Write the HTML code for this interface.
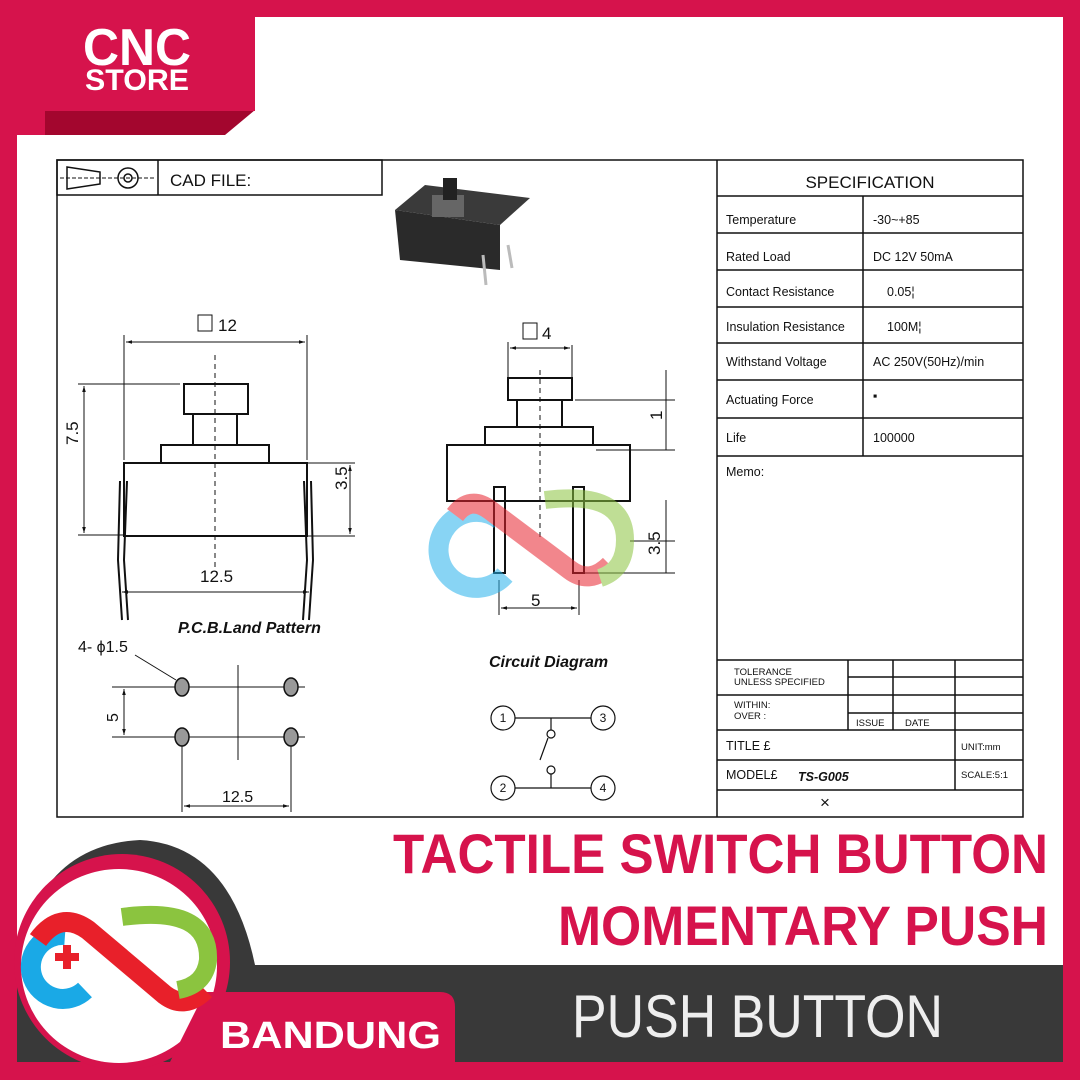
<!DOCTYPE html>
<html><head><meta charset="utf-8"><style>
html,body{margin:0;padding:0;background:#fff}
svg{display:block}
text{font-family:"Liberation Sans",Arial,sans-serif}
</style></head><body>
<svg width="1080" height="1080" viewBox="0 0 1080 1080" xmlns="http://www.w3.org/2000/svg">
<defs>
<marker id="a" viewBox="0 0 10 10" refX="10" refY="5" markerWidth="8" markerHeight="6" orient="auto-start-reverse"><path d="M0 2 L10 5 L0 8 Z" fill="#111"/></marker>
</defs>
<rect width="1080" height="1080" fill="#d6134c"/>
<rect x="17" y="17" width="1046" height="948" fill="#fff"/>
<polygon points="45,110 255,110 225,135 15,135" fill="#a3062e"/>
<rect x="45" y="15" width="210" height="96" fill="#d6134c"/>
<rect x="15" y="15" width="30" height="120" fill="#d6134c"/>
<text x="137" y="65" font-size="52" font-weight="bold" fill="#fff" text-anchor="middle" textLength="108" lengthAdjust="spacingAndGlyphs">CNC</text>
<text x="137" y="90" font-size="30" font-weight="bold" fill="#fff" text-anchor="middle" textLength="104" lengthAdjust="spacingAndGlyphs">STORE</text>

<g stroke="#111" fill="none" stroke-width="1.5">
<rect x="57" y="160" width="966" height="657"/>
<rect x="57" y="160" width="325" height="35"/>
<line x1="158" y1="160" x2="158" y2="195"/>
<polygon points="67,167 100,172 100,184 67,189"/>
<circle cx="128" cy="178" r="10"/><circle cx="128" cy="178" r="4"/>
<line x1="60" y1="178" x2="155" y2="178" stroke-dasharray="4,2" stroke-width="1"/>
<line x1="717" y1="160" x2="717" y2="817"/>
<line x1="717" y1="196" x2="1023" y2="196"/>
<line x1="717" y1="233" x2="1023" y2="233"/>
<line x1="717" y1="270" x2="1023" y2="270"/>
<line x1="717" y1="307" x2="1023" y2="307"/>
<line x1="717" y1="343" x2="1023" y2="343"/>
<line x1="717" y1="380" x2="1023" y2="380"/>
<line x1="717" y1="418" x2="1023" y2="418"/>
<line x1="717" y1="456" x2="1023" y2="456"/>
<line x1="863" y1="196" x2="863" y2="456"/>
<line x1="717" y1="660" x2="1023" y2="660"/>
<line x1="717" y1="695" x2="1023" y2="695"/>
<line x1="717" y1="730" x2="1023" y2="730"/>
<line x1="717" y1="760" x2="1023" y2="760"/>
<line x1="717" y1="790" x2="1023" y2="790"/>
<line x1="848" y1="660" x2="848" y2="730"/>
<line x1="893" y1="660" x2="893" y2="730"/>
<line x1="955" y1="660" x2="955" y2="790"/>
<line x1="848" y1="677" x2="1023" y2="677"/>
<line x1="848" y1="713" x2="1023" y2="713"/>
</g>
<g font-size="12.5" fill="#111">
<text x="170" y="186" font-size="17">CAD FILE:</text>
<text x="870" y="188" font-size="17" text-anchor="middle">SPECIFICATION</text>
<text x="726" y="224">Temperature</text><text x="873" y="224">-30~+85</text>
<text x="726" y="261">Rated Load</text><text x="873" y="261">DC 12V 50mA</text>
<text x="726" y="296">Contact Resistance</text><text x="887" y="296">0.05¦</text>
<text x="726" y="331">Insulation Resistance</text><text x="887" y="331">100M¦</text>
<text x="726" y="366">Withstand Voltage</text><text x="873" y="366">AC 250V(50Hz)/min</text>
<text x="726" y="404">Actuating Force</text><text x="873" y="400">▪</text>
<text x="726" y="442">Life</text><text x="873" y="442">100000</text>
<text x="726" y="476">Memo:</text>
<g font-size="9.5"><text x="734" y="675">TOLERANCE</text><text x="734" y="685">UNLESS SPECIFIED</text>
<text x="734" y="708">WITHIN:</text><text x="734" y="719">OVER  :</text>
<text x="856" y="726">ISSUE</text><text x="905" y="726">DATE</text>
<text x="961" y="750">UNIT:mm</text><text x="961" y="778">SCALE:5:1</text></g>
<text x="726" y="750">TITLE  £</text><text x="726" y="779">MODEL£</text>
<text x="798" y="781" font-style="italic" font-weight="bold">TS-G005</text>
<text x="820" y="808" font-size="17">×</text>
</g>

<polygon points="395,210 425,185 530,198 500,225" fill="#3a3a3a"/>
<polygon points="395,210 500,225 500,270 400,260" fill="#2a2a2a"/>
<rect x="432" y="195" width="32" height="22" fill="#666"/><rect x="443" y="178" width="14" height="22" fill="#222"/>
<path d="M483 255 L486 285 M508 245 L512 268" stroke="#bbb" stroke-width="3"/>

<g stroke="#111" fill="none" stroke-width="2">
<rect x="184" y="384" width="64" height="30"/><rect x="193" y="414" width="44" height="31"/>
<rect x="161" y="445" width="108" height="18"/><path d="M124 463 H307 V536 H124 Z"/>
<path d="M120 481 L118 560 L122 620 M127 481 L124 560 L128 620"/>
<path d="M311 481 L313 560 L309 620 M304 481 L307 560 L303 620"/>
</g>
<g stroke="#111" fill="none" stroke-width="1">
<line x1="215" y1="355" x2="215" y2="570" stroke-dasharray="5,4"/>
<line x1="124" y1="335" x2="124" y2="460"/><line x1="307" y1="335" x2="307" y2="460"/>
<line x1="126" y1="342" x2="305" y2="342" marker-start="url(#a)" marker-end="url(#a)"/>
<line x1="78" y1="384" x2="180" y2="384"/><line x1="78" y1="535" x2="124" y2="535"/>
<line x1="84" y1="386" x2="84" y2="533" marker-start="url(#a)" marker-end="url(#a)"/>
<line x1="307" y1="463" x2="355" y2="463"/><line x1="307" y1="536" x2="355" y2="536"/>
<line x1="350" y1="465" x2="350" y2="534" marker-start="url(#a)" marker-end="url(#a)"/>
<line x1="122" y1="592" x2="309" y2="592" marker-start="url(#a)" marker-end="url(#a)"/>
<line x1="510" y1="348" x2="570" y2="348" marker-start="url(#a)" marker-end="url(#a)"/>
<line x1="508" y1="342" x2="508" y2="385"/><line x1="572" y1="345" x2="572" y2="385"/>
<line x1="540" y1="370" x2="540" y2="540" stroke-dasharray="5,4"/>
<line x1="575" y1="400" x2="675" y2="400"/><line x1="596" y1="450" x2="675" y2="450"/>
<line x1="666" y1="370" x2="666" y2="450"/>
<line x1="630" y1="541" x2="675" y2="541"/><line x1="585" y1="573" x2="675" y2="573"/>
<line x1="666" y1="500" x2="666" y2="573"/>
<line x1="499" y1="580" x2="499" y2="615"/><line x1="579" y1="580" x2="579" y2="615"/>
<line x1="501" y1="608" x2="577" y2="608" marker-start="url(#a)" marker-end="url(#a)"/>
</g>
<g stroke="#111" fill="none" stroke-width="2">
<rect x="508" y="378" width="64" height="22"/><rect x="517" y="400" width="45" height="27"/>
<rect x="485" y="427" width="108" height="18"/><rect x="447" y="445" width="183" height="56"/>
<rect x="494" y="487" width="11" height="86"/><rect x="573" y="487" width="11" height="86"/>
</g>
<g opacity="0.55">
<path d="M500 520 A38 38 0 1 0 505 575" stroke="#27b2ec" stroke-width="20" fill="none"/>
<path d="M455 515 Q470 495 490 510 L570 570 Q590 585 610 565" stroke="#e82430" stroke-width="20" fill="none"/>
<path d="M545 500 Q625 490 625 540 Q625 570 600 578" stroke="#8bc43f" stroke-width="18" fill="none"/>
</g>
<g font-size="17" fill="#111">
<rect x="198" y="315" width="14" height="16" fill="none" stroke="#111"/><text x="218" y="331">12</text>
<rect x="523" y="323" width="14" height="16" fill="none" stroke="#111"/><text x="542" y="339">4</text>
<text x="200" y="582">12.5</text><text x="531" y="606">5</text>
<text transform="translate(78,445) rotate(-90)">7.5</text>
<text transform="translate(347,490) rotate(-90)">3.5</text>
<text transform="translate(660,555) rotate(-90)">3.5</text>
<text transform="translate(662,420) rotate(-90)">1</text>
<text x="178" y="633" font-style="italic" font-weight="bold" font-size="16">P.C.B.Land Pattern</text>
<text x="489" y="667" font-style="italic" font-weight="bold" font-size="16">Circuit Diagram</text>
<text x="78" y="652" font-size="16">4- ϕ1.5</text>
<text x="222" y="802" font-size="16">12.5</text>
<text transform="translate(118,722) rotate(-90)" font-size="16">5</text>
</g>
<g stroke="#111" fill="none" stroke-width="1">
<line x1="165" y1="687" x2="305" y2="687"/><line x1="165" y1="737" x2="305" y2="737"/>
<line x1="238" y1="665" x2="238" y2="760"/>
<line x1="112" y1="687" x2="165" y2="687"/><line x1="112" y1="737" x2="165" y2="737"/>
<line x1="124" y1="689" x2="124" y2="735" marker-start="url(#a)" marker-end="url(#a)"/>
<line x1="182" y1="745" x2="182" y2="812"/><line x1="291" y1="745" x2="291" y2="812"/>
<line x1="184" y1="806" x2="289" y2="806" marker-start="url(#a)" marker-end="url(#a)"/>
<line x1="135" y1="655" x2="176" y2="680"/>
</g>
<g fill="#999" stroke="#111" stroke-width="1.5">
<ellipse cx="182" cy="687" rx="7" ry="9"/><ellipse cx="291" cy="687" rx="7" ry="9"/>
<ellipse cx="182" cy="737" rx="7" ry="9"/><ellipse cx="291" cy="737" rx="7" ry="9"/>
</g>
<g stroke="#111" fill="none" stroke-width="1.2">
<circle cx="503" cy="718" r="12"/><circle cx="603" cy="718" r="12"/>
<circle cx="503" cy="788" r="12"/><circle cx="603" cy="788" r="12"/>
<line x1="515" y1="718" x2="591" y2="718"/><line x1="515" y1="788" x2="591" y2="788"/>
<line x1="551" y1="718" x2="551" y2="730"/><circle cx="551" cy="734" r="4"/>
<line x1="551" y1="788" x2="551" y2="774"/><circle cx="551" cy="770" r="4"/>
<line x1="548" y1="738" x2="540" y2="760"/>
</g>
<g font-size="12" fill="#111" text-anchor="middle">
<text x="503" y="722">1</text><text x="603" y="722">3</text><text x="503" y="792">2</text><text x="603" y="792">4</text>
</g>

<rect x="255" y="965" width="808" height="97" fill="#393939"/>
<rect x="0" y="1062" width="1080" height="18" fill="#d6134c"/>
<text x="1048" y="873" font-size="56" font-weight="bold" fill="#d6134c" text-anchor="end" textLength="655" lengthAdjust="spacingAndGlyphs">TACTILE SWITCH BUTTON</text>
<text x="1048" y="945" font-size="56" font-weight="bold" fill="#d6134c" text-anchor="end" textLength="490" lengthAdjust="spacingAndGlyphs">MOMENTARY PUSH</text>
<text x="572" y="1037" font-size="60" fill="#eee" textLength="371" lengthAdjust="spacingAndGlyphs">PUSH BUTTON</text>
<path d="M17 1062 L17 960 Q40 845 140 840 Q230 845 255 965 L255 1062 Z" fill="#393939"/>
<ellipse cx="122" cy="962" rx="108" ry="108" fill="#d6134c"/>
<ellipse cx="119" cy="966" rx="98" ry="97" fill="#fff"/>
<path d="M205 992 H440 Q455 992 455 1007 V1062 H170 Z" fill="#d6134c"/>
<text x="220" y="1048" font-size="38" font-weight="bold" fill="#fff" textLength="221" lengthAdjust="spacingAndGlyphs">BANDUNG</text>
<path d="M65 935 A32 32 0 1 0 85 990" stroke="#1aa9e6" stroke-width="20" fill="none"/>
<path d="M38 940 Q60 910 88 930 L165 995 Q185 1010 205 990" stroke="#e8202a" stroke-width="20" fill="none"/>
<path d="M122 917 Q210 905 208 960 Q205 985 178 990" stroke="#8bc43f" stroke-width="18" fill="none"/>
<path d="M55 953 h8 v-8 h8 v8 h8 v8 h-8 v8 h-8 v-8 h-8 z" fill="#e8202a"/>
</svg>
</body></html>
